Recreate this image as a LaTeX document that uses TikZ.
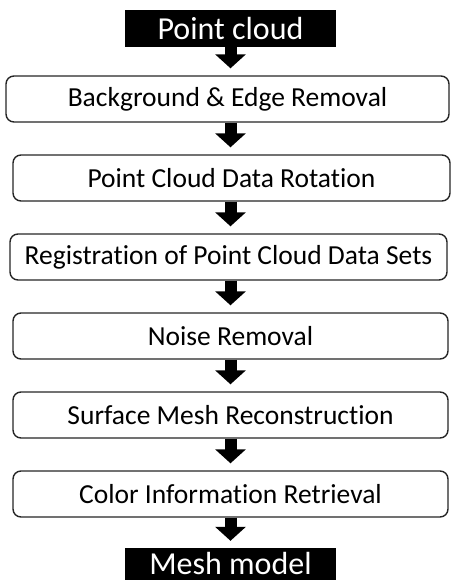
\documentclass[tikz,border=0pt]{standalone}
\usepackage{fontspec}
\setmainfont{Carlito}[RawFeature=-liga]
\usetikzlibrary{arrows.meta}

\tikzset{
  stepbox/.style={draw=black!85,line width=1.4pt,rounded corners=8pt,fill=white,
    minimum height=46pt,inner sep=0pt,font=\fontsize{27.5}{30}\selectfont},
  endbox/.style={fill=black,text=white,minimum width=211pt,minimum height=37pt,
    inner sep=0pt,font=\fontsize{32}{34}\selectfont},
  flow/.style={line width=12pt,-{Triangle[width=30pt,length=14pt]},shorten >=7pt}
}

\begin{document}
\begin{tikzpicture}[x=1pt,y=-1pt]
\useasboundingbox (0,0) rectangle (451,582);

% start and end
\node[endbox] (cloud) at (230.5,28.5) {Point cloud};
\node[endbox,minimum height=32pt] (mesh) at (230.5,564) {Mesh model};

% the steps
\node[stepbox,minimum width=443pt] (bg) at (227.5,99) {Background \& Edge Removal};
\node[stepbox,minimum width=437pt] (rot) at (231.5,178) {Point Cloud Data Rotation};
\node[stepbox,minimum width=437pt] (reg) at (228.5,257) {Registration of Point Cloud Data Sets};
\node[stepbox,minimum width=435pt] (noise) at (230.5,336) {Noise Removal};
\node[stepbox,minimum width=435pt] (surf) at (230.5,415) {Surface Mesh Reconstruction};
\node[stepbox,minimum width=435pt] (col) at (230.5,494) {Color Information Retrieval};

% arrows
\draw[flow] (cloud.south) -- (cloud.south |- bg.north);
\draw[flow] (bg.south -| cloud.south) -- (cloud.south |- rot.north);
\draw[flow] (rot.south -| cloud.south) -- (cloud.south |- reg.north);
\draw[flow] (reg.south -| cloud.south) -- (cloud.south |- noise.north);
\draw[flow] (noise.south -| cloud.south) -- (cloud.south |- surf.north);
\draw[flow] (surf.south -| cloud.south) -- (cloud.south |- col.north);
\draw[flow] (col.south -| cloud.south) -- (mesh.north);

\end{tikzpicture}
\end{document}
